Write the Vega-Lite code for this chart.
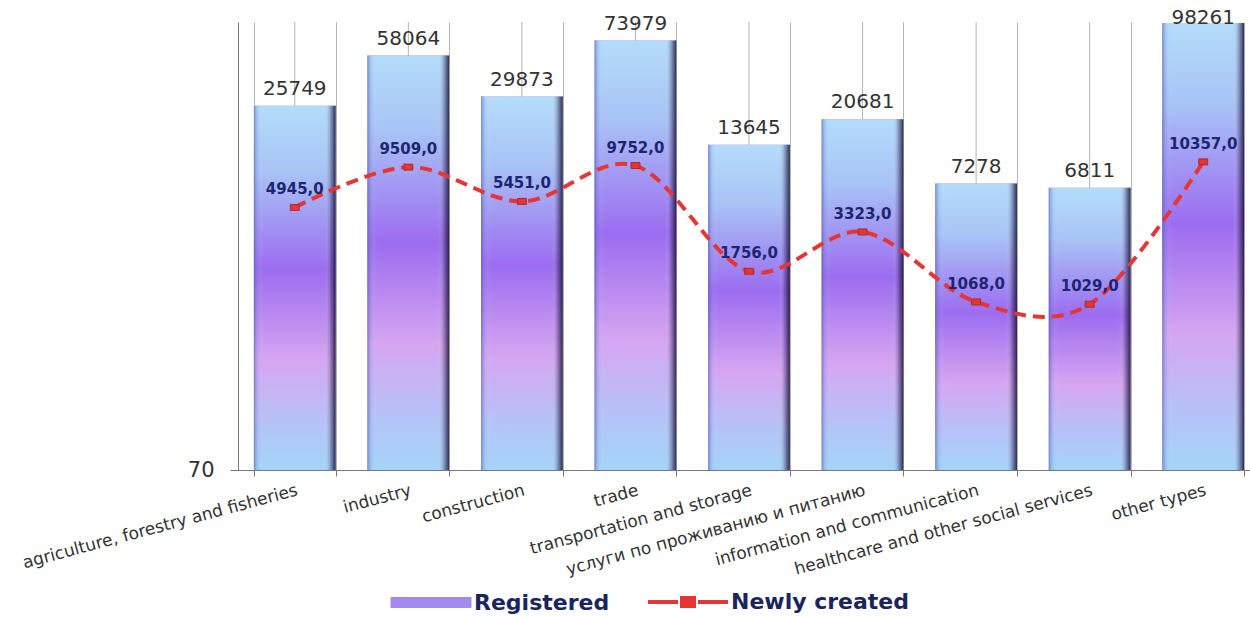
{
  "$schema": "https://vega.github.io/schema/vega-lite/v6.json",
  "width": 1022,
  "height": 448,
  "autosize": {"type": "none"},
  "padding": {"left": 238, "top": 22, "right": -10, "bottom": 147},
  "background": "white",
  "config": {
    "view": {"stroke": null},
    "font": "DejaVu Sans",
    "locale": {"number": {"decimal": ",", "thousands": "", "grouping": [3], "currency": ["", ""]}},
    "legend": {
      "title": null,
      "orient": "none",
      "legendX": 152,
      "legendY": 569,
      "direction": "horizontal",
      "labelFont": "DejaVu Sans",
      "labelFontWeight": "bold",
      "labelFontSize": 22,
      "labelColor": "#1a2560",
      "labelLimit": 400,
      "symbolSize": 1600,
      "labelOffset": 62,
      "columnPadding": 30
    }
  },
  "data": {
    "values": [
      {"cat": "agriculture,  forestry and fisheries", "registered": 25749, "newly": 4945},
      {"cat": "industry", "registered": 58064, "newly": 9509},
      {"cat": "construction", "registered": 29873, "newly": 5451},
      {"cat": "trade", "registered": 73979, "newly": 9752},
      {"cat": "transportation and storage", "registered": 13645, "newly": 1756},
      {"cat": "услуги по проживанию и питанию", "registered": 20681, "newly": 3323},
      {"cat": "information and  communication", "registered": 7278, "newly": 1068},
      {"cat": "healthcare and  other social services", "registered": 6811, "newly": 1029},
      {"cat": "other types", "registered": 98261, "newly": 10357}
    ]
  },
  "encoding": {
    "x": {
      "field": "cat",
      "type": "nominal",
      "sort": null,
      "scale": {"paddingInner": 0.28, "paddingOuter": 0.14},
      "axis": {
        "title": null,
        "labelAngle": -15,
        "labelAlign": "right",
        "labelBaseline": "top",
        "labelFontSize": 17,
        "labelFont": "DejaVu Sans",
        "labelColor": "#333333",
        "labelLimit": 500,
        "labelOverlap": false,
        "labelBound": false,
        "labelPadding": 6,
        "tickBand": "extent",
        "grid": true,
        "gridColor": "#b4b4b4",
        "tickColor": "#777777",
        "tickSize": 6,
        "domainColor": "#777777"
      }
    }
  },
  "layer": [
    {
      "mark": {"type": "rule", "color": "#b4b4b4", "strokeWidth": 1},
      "encoding": {}
    },
    {
      "mark": {"type": "bar"},
      "encoding": {
        "y": {
          "field": "registered",
          "type": "quantitative",
          "scale": {"type": "log", "domain": [70, 100000], "nice": false},
          "axis": {
            "title": null,
            "values": [70],
            "grid": false,
            "format": "d",
            "labelFontSize": 21,
            "labelColor": "#333333",
            "tickSize": 8,
            "tickColor": "#777777",
            "domainColor": "#777777",
            "labelPadding": 16
          }
        },
        "y2": {"datum": 70},
        "color": {
          "datum": "Registered",
          "scale": {"domain": ["Registered", "Newly created"], "range": ["#a48af0", "#e53535"]},
          "legend": {
            "symbolSize": 1600,
            "encode": {
              "symbols": {
                "update": {
                  "shape": {"signal": "datum.value === 'Registered' ? 'M-0.5,-0.25H3.5V0.25H-0.5Z' : 'M-0.5,0H1.0M1.2,-0.2H1.8V0.2H1.2ZM2.0,0H3.5'"},
                  "fill": {"signal": "datum.value === 'Registered' ? {gradient: 'linear', x1: 0, y1: 0, x2: 1, y2: 0, stops: [{offset: 0, color: '#7f9fd8'}, {offset: 0.35, color: '#a070f0'}, {offset: 0.7, color: '#b8c8f8'}, {offset: 1, color: '#5a6a9a'}]} : '#e53535'"},
                  "stroke": {"signal": "datum.value === 'Registered' ? '#6a70a0' : '#e53535'"},
                  "strokeWidth": {"signal": "datum.value === 'Registered' ? 1 : 4"},
                  "strokeDash": {"value": []},
                  "opacity": {"value": 1}
                }
              }
            }
          }
        }
      }
    },
    {
      "mark": {
        "type": "bar",
        "color": {
          "gradient": "linear",
          "x1": 0, "y1": 0, "x2": 0, "y2": 1,
          "stops": [
            {"offset": 0, "color": "#b4dcfa"},
            {"offset": 0.18, "color": "#a8c4f6"},
            {"offset": 0.45, "color": "#9c6cf0"},
            {"offset": 0.7, "color": "#d6a6f2"},
            {"offset": 0.88, "color": "#b4c4f8"},
            {"offset": 1, "color": "#a4d4f8"}
          ]
        }
      },
      "encoding": {"y": {"field": "registered", "type": "quantitative"}, "y2": {"datum": 70}}
    },
    {
      "mark": {
        "type": "bar",
        "color": {
          "gradient": "linear",
          "x1": 0, "y1": 0, "x2": 1, "y2": 0,
          "stops": [
            {"offset": 0, "color": "rgba(70,80,160,0.55)"},
            {"offset": 0.05, "color": "rgba(120,140,220,0.15)"},
            {"offset": 0.12, "color": "rgba(255,255,255,0)"},
            {"offset": 0.86, "color": "rgba(255,255,255,0)"},
            {"offset": 0.94, "color": "rgba(40,30,80,0.35)"},
            {"offset": 1, "color": "rgba(20,15,40,0.85)"}
          ]
        }
      },
      "encoding": {"y": {"field": "registered", "type": "quantitative"}, "y2": {"datum": 70}}
    },
    {
      "transform": [{"filter": "datum.registered < 90000"}],
      "mark": {"type": "text", "baseline": "alphabetic", "dy": -11, "fontSize": 20, "font": "DejaVu Sans", "color": "#333333"},
      "encoding": {
        "y": {"field": "registered", "type": "quantitative"},
        "text": {"field": "registered", "type": "quantitative", "format": "d"}
      }
    },
    {
      "transform": [{"filter": "datum.registered >= 90000"}],
      "mark": {"type": "text", "baseline": "alphabetic", "dy": 1, "fontSize": 20, "font": "DejaVu Sans", "color": "#333333"},
      "encoding": {
        "y": {"field": "registered", "type": "quantitative"},
        "text": {"field": "registered", "type": "quantitative", "format": "d"}
      }
    },
    {
      "mark": {"type": "line", "interpolate": "cardinal", "strokeDash": [12, 7], "strokeWidth": 4},
      "encoding": {
        "y": {"field": "newly", "type": "quantitative"},
        "color": {"datum": "Newly created"}
      }
    },
    {
      "mark": {"type": "point", "filled": true, "opacity": 1, "shape": "M-1.2,-0.8H1.2V0.8H-1.2Z", "size": 55, "stroke": "#b02828", "strokeWidth": 1},
      "encoding": {
        "y": {"field": "newly", "type": "quantitative"},
        "color": {"datum": "Newly created"}
      }
    },
    {
      "mark": {"type": "text", "baseline": "alphabetic", "dy": -13, "fontSize": 15, "fontWeight": "bold", "font": "DejaVu Sans", "color": "#1c2670"},
      "encoding": {
        "y": {"field": "newly", "type": "quantitative"},
        "text": {"field": "newly", "type": "quantitative", "format": ".1f"}
      }
    }
  ]
}
